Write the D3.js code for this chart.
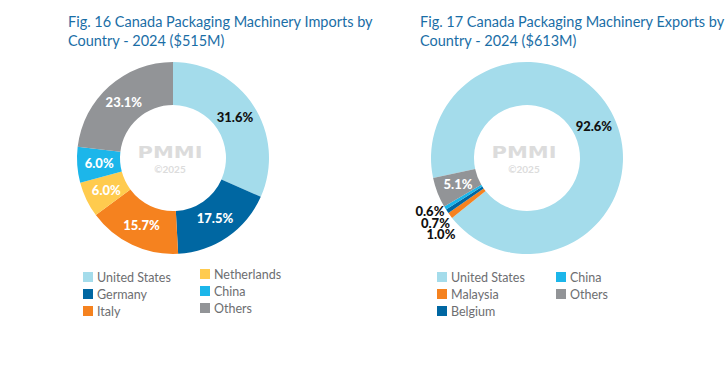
<!DOCTYPE html>
<html>
<head>
<meta charset="utf-8">
<script src="https://cdn.jsdelivr.net/npm/d3@7"></script>
<style>
  body { margin: 0; background: #fff; }
  svg { display: block; font-family: Lato, "Open Sans", sans-serif; }
</style>
</head>
<body>
<div id="chart"></div>
<script>
// imports (fig. 16)
var importCountries = ["United States", "Germany", "Italy", "Netherlands", "China", "Others"];
var importShares    = [31.6, 17.5, 15.7, 6.0, 6.0, 23.1];
var importColors    = ["#a4dceb", "#0067a2", "#f5821f", "#ffcb4e", "#1cb6ea", "#929497"];

// exports (fig. 17)
var exportCountries = ["United States", "Malaysia", "Belgium", "China", "Others"];
var exportShares    = [92.6, 1.0, 0.7, 0.6, 5.1];
var exportColors    = ["#a4dceb", "#f5821f", "#0067a2", "#1cb6ea", "#929497"];

var titles = [
  ["Fig. 16 Canada Packaging Machinery Imports by", "Country - 2024 ($515M)"],
  ["Fig. 17 Canada Packaging Machinery Exports by", "Country - 2024 ($613M)"]
];

var W = 725, H = 371;
var outerR = 96, innerR = 53, labelR = 74;

var svg = d3.select("#chart").append("svg")
  .attr("width", W)
  .attr("height", H);

function drawDonut(opts) {

  var g = svg.append("g");

  // title
  var title = g.append("text")
    .attr("x", opts.titleX)
    .attr("y", 27)
    .attr("fill", "#1a6ea6")
    .style("font-size", "14.5px");
  opts.title.forEach(function(line, i) {
    title.append("tspan")
      .attr("x", opts.titleX)
      .attr("dy", i === 0 ? 0 : 18.5)
      .text(line);
  });

  var data = opts.names.map(function(n, i) {
    return {name: n, value: opts.values[i], color: opts.colors[i], small: opts.values[i] < 2};
  });

  var pie = d3.pie()
    .sort(null)
    .value(function(d) { return d.value; })
    .startAngle(opts.start)
    .endAngle(opts.start + 2 * Math.PI);

  var arc = d3.arc().innerRadius(innerR).outerRadius(outerR);
  var labelArc = d3.arc().innerRadius(labelR).outerRadius(labelR);

  var arcs = pie(data);

  var chart = g.append("g")
    .attr("transform", "translate(" + opts.cx + "," + opts.cy + ")");

  chart.selectAll("path")
    .data(arcs)
    .enter().append("path")
    .attr("d", arc)
    .attr("fill", function(d) { return d.data.color; });

  // watermark (wide heavy logo type)
  chart.append("text")
    .attr("transform", "translate(-3,0) scale(1.4,1)")
    .attr("text-anchor", "middle")
    .attr("fill", "#dcdcdc")
    .style("font-size", "15px")
    .style("font-weight", 700)
    .style("font-family", "'DejaVu Sans', sans-serif")
    .text("PMMI");
  chart.append("text")
    .attr("text-anchor", "middle")
    .attr("x", -3)
    .attr("y", 15)
    .attr("fill", "#dcdcdc")
    .style("font-size", "10px")
    .style("font-weight", 700)
    .text("\u00a92025");

  // labels inside the ring
  chart.selectAll(".lbl")
    .data(arcs.filter(function(d) { return !d.data.small; }))
    .enter().append("text")
    .attr("class", "lbl")
    .attr("transform", function(d) {
      var c = labelArc.centroid(d);
      return "translate(" + c[0] + "," + c[1] + ")";
    })
    .attr("text-anchor", "middle")
    .attr("dy", "0.35em")
    .attr("fill", function(d) { return d.data.color === "#a4dceb" ? "#111" : "#fff"; })
    .style("font-size", "13px")
    .style("font-weight", 900)
    .text(function(d) { return d3.format(".1f")(d.data.value) + "%"; });

  // small slices: stacked outside on the left, smallest on top
  var small = arcs.filter(function(d) { return d.data.small; })
    .sort(function(a, b) { return a.data.value - b.data.value; });
  if (small.length) {
    var outArc = d3.arc().innerRadius(outerR + 2).outerRadius(outerR + 2);
    var base = outArc.centroid(small[0]);
    chart.selectAll(".out")
      .data(small)
      .enter().append("text")
      .attr("class", "out")
      .attr("x", function(d, i) { return base[0] + 1 + i * 5.5; })
      .attr("y", function(d, i) { return base[1] + 7 + i * 11.5; })
      .attr("text-anchor", "end")
      .attr("fill", "#111")
      .style("font-size", "13px")
      .style("font-weight", 900)
      .text(function(d) { return d3.format(".1f")(d.data.value) + "%"; });
  }

  // legend
  var rows = 3;
  var leg = g.append("g")
    .attr("transform", "translate(" + opts.legendX + ",272)");
  var item = leg.selectAll("g")
    .data(data)
    .enter().append("g")
    .attr("transform", function(d, i) {
      var col = Math.floor(i / rows), row = i % rows;
      return "translate(" + (col * opts.colW) + "," + (row * 17 - col * opts.colShift) + ")";
    });
  item.append("rect")
    .attr("width", 10)
    .attr("height", 10)
    .attr("fill", function(d) { return d.color; });
  item.append("text")
    .attr("x", 14)
    .attr("y", 10)
    .attr("fill", "#6d6e71")
    .style("font-size", "12.5px")
    .text(function(d) { return d.name; });
}

drawDonut({
  title: titles[0], titleX: 68,
  names: importCountries, values: importShares, colors: importColors,
  cx: 173, cy: 158, start: 0,
  legendX: 83, colW: 117, colShift: 3
});

drawDonut({
  title: titles[1], titleX: 420,
  names: exportCountries, values: exportShares, colors: exportColors,
  cx: 527, cy: 158, start: -102 * Math.PI / 180,
  legendX: 437, colW: 119, colShift: 0
});
</script>
</body>
</html>
